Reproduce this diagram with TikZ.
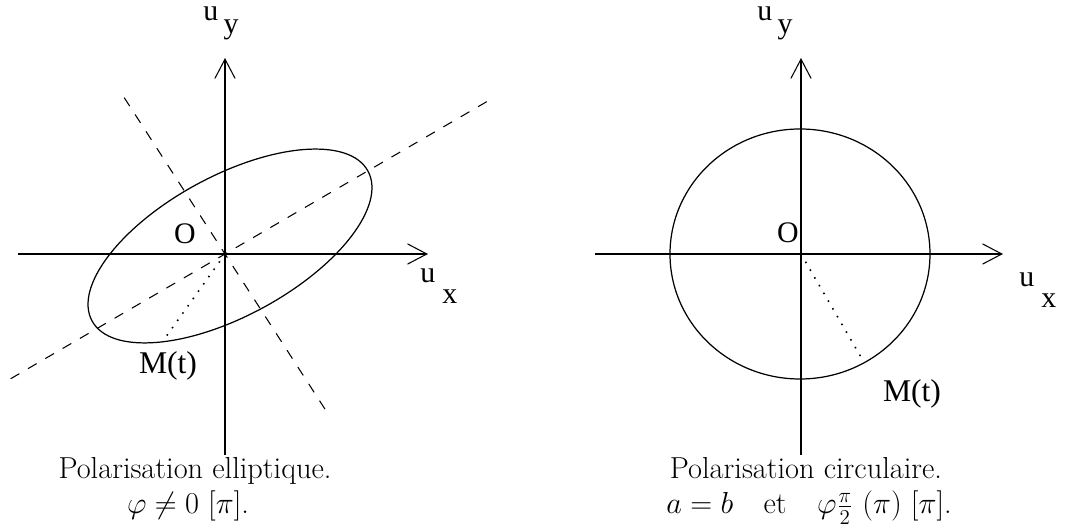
\documentclass[tikz,border=0pt]{standalone}
\usepackage{amsmath}
\usepackage{fontspec}
\newfontfamily\labfont{Liberation Serif}
\usetikzlibrary{arrows.meta}

\begin{document}
\begin{tikzpicture}[
  x=0.02cm,y=0.02cm,
  axis/.style={-{Straight Barb[length=11pt,width=11.5pt]},line width=0.6pt},
  guide/.style={dash pattern=on 5.7pt off 5.7pt,line width=0.6pt},
  dotline/.style={dash pattern=on 0.9pt off 4.2pt,line width=0.9pt},
  curve/.style={line width=0.7pt},
  lab/.style={font=\labfont\fontsize{17}{17}\selectfont,inner sep=0pt,anchor=base west},
  mlab/.style={font=\labfont\fontsize{18}{18}\selectfont,inner sep=0pt},
  olab/.style={font=\labfont\fontsize{17}{17}\selectfont,inner sep=0pt},
  captext/.style={font=\fontsize{17.28}{17.28}\selectfont,inner sep=0pt,anchor=base}
]
\useasboundingbox (0,0) rectangle (1066,531);
\coordinate (O1) at (225,277);
\coordinate (O2) at (801,277);

\begin{scope}[shift={(O1)}]
\coordinate (xl1) at (-207,0);
\coordinate (xr1) at (203,0);
\coordinate (yb1) at (0,-201);
\coordinate (yt1) at (0,196);
\coordinate (ma1) at (210.2:248);
\coordinate (mb1) at (30.2:310);
\coordinate (na1) at (122.8:186);
\coordinate (nb1) at (-57.2:192);
\coordinate (C1) at (5,8);
\coordinate (M1) at (-62,-87);
\draw[axis] (xl1) -- (xr1);
\draw[axis] (yb1) -- (yt1);
\draw[guide] (ma1) -- (mb1);
\draw[guide] (na1) -- (nb1);
\draw[curve,rotate around={28.5:(C1)}] (C1) ellipse [x radius=157,y radius=70];
\draw[dotline] (O1) -- (M1);
\end{scope}

\begin{scope}[shift={(O2)}]
\coordinate (xl2) at (-206,0);
\coordinate (xr2) at (202,0);
\coordinate (yb2) at (0,-201);
\coordinate (yt2) at (0,196);
\coordinate (M2) at (63,-108.3);
\draw[axis] (xl2) -- (xr2);
\draw[axis] (yb2) -- (yt2);
\draw[curve] (-1,0) ellipse [x radius=130,y radius=125];
\draw[dotline] (O2) -- (M2);
\end{scope}

\node[lab] (uy1) at (203,510) {u\hspace{3pt}\raisebox{-7pt}{y}};
\node[lab] (ux1) at (420,248) {u\hspace{4pt}\raisebox{-11.4pt}{x}};
\node[olab] (o1) at (185,297) {O};
\node[mlab] (mt1) at (168,165) {M(t)};
\node[lab] (uy2) at (757,510) {u\hspace{3pt}\raisebox{-7pt}{y}};
\node[lab] (ux2) at (1019,244) {u\hspace{4pt}\raisebox{-11.4pt}{x}};
\node[olab] (o2) at (788,298) {O};
\node[mlab] (mt2) at (912,137) {M(t)};

\node[captext] (cap1a) at (195,52) {Polarisation elliptique.};
\node[captext] (cap1b) at (188,17) {$\varphi\neq 0$ $[\pi]$.};
\node[captext] (cap2a) at (806,52) {Polarisation circulaire.};
\node[captext] (cap2b) at (809,17) {$a=b$\quad et\quad $\varphi\frac{\pi}{2}$ $(\pi)$ $[\pi]$.};
\end{tikzpicture}
\end{document}
